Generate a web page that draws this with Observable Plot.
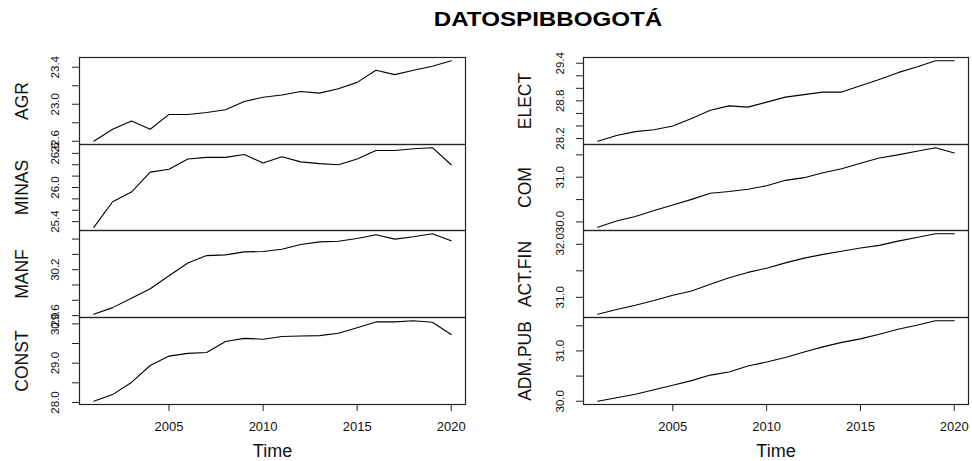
<!DOCTYPE html>
<html><head><meta charset="utf-8">
<script src="https://cdn.jsdelivr.net/npm/d3@7"></script>
<script src="https://cdn.jsdelivr.net/npm/@observablehq/plot@0.6"></script>
<style>
body{margin:0;background:#fff;}
#fig{position:relative;width:972px;height:461px;font-family:"Liberation Sans",Arial,sans-serif;background:#fff;}
#title{position:absolute;left:548px;top:19px;transform:translate(-50%,-50%) scaleX(1.15);font-weight:bold;font-size:21px;white-space:nowrap;color:#000;}
.panel{position:absolute;}
</style></head><body>
<div id="fig"><div id="title">DATOSPIBBOGOTÁ</div></div>
<script>
const years = [2001,2002,2003,2004,2005,2006,2007,2008,2009,2010,2011,2012,2013,2014,2015,2016,2017,2018,2019,2020];

const AGR    = [22.60,22.73,22.82,22.73,22.89,22.89,22.91,22.94,23.03,23.075,23.10,23.137,23.12,23.167,23.236,23.367,23.32,23.367,23.41,23.47];
const MINAS  = [25.30,25.75,25.92,26.27,26.32,26.50,26.53,26.53,26.58,26.43,26.54,26.45,26.42,26.40,26.50,26.65,26.65,26.68,26.70,26.40];
const MANF   = [29.617,29.704,29.828,29.95,30.121,30.288,30.384,30.393,30.433,30.437,30.467,30.529,30.564,30.572,30.608,30.657,30.599,30.63,30.67,30.578];
const CONST  = [28.03,28.20,28.51,28.94,29.18,29.25,29.27,29.55,29.63,29.61,29.68,29.69,29.70,29.76,29.90,30.05,30.05,30.08,30.04,29.73];
const ELECT  = [28.156,28.249,28.31,28.34,28.40,28.52,28.65,28.72,28.70,28.78,28.86,28.90,28.94,28.94,29.04,29.14,29.25,29.34,29.44,29.44];
const COM    = [29.88,30.02,30.12,30.255,30.38,30.505,30.64,30.68,30.73,30.81,30.93,30.99,31.10,31.19,31.31,31.43,31.50,31.58,31.66,31.54];
const ACTFIN = [30.68,30.77,30.85,30.94,31.04,31.12,31.245,31.37,31.47,31.55,31.65,31.74,31.81,31.87,31.93,31.98,32.06,32.13,32.20,32.20];
const ADMPUB = [30.00,30.07,30.14,30.23,30.32,30.41,30.52,30.58,30.70,30.78,30.87,30.98,31.08,31.17,31.24,31.33,31.43,31.51,31.60,31.60];

const seriesNames = ["AGR","MINAS","MANF","CONST","ELECT","COM","ACT.FIN","ADM.PUB"];
const seriesValues = [AGR, MINAS, MANF, CONST, ELECT, COM, ACTFIN, ADMPUB];

const yTicks = [
  [22.6,22.8,23.0,23.2,23.4],
  [25.4,25.6,25.8,26.0,26.2,26.4,26.6],
  [29.6,29.8,30.0,30.2,30.4,30.6],
  [28.0,28.5,29.0,29.5,30.0],
  [28.2,28.4,28.6,28.8,29.0,29.2,29.4],
  [30.0,30.5,31.0,31.5],
  [31.0,31.5,32.0],
  [30.0,30.5,31.0,31.5]
];
const yLabels = [
  [22.6,23.0,23.4],
  [25.4,26.0,26.6],
  [29.6,30.2],
  [28.0,29.0,30.0],
  [28.2,28.8,29.4],
  [30.0,31.0],
  [31.0,32.0],
  [30.0,31.0]
];
const xTicks = [2005,2010,2015,2020];
const xLabel = "Time";

// layout
const panelTops = [57,144,230,317];
const panelHeights = [87,86,87,87];
const columns = [
  {colLeft:0, colWidth:470, boxLeft:79, boxRight:465, tickDx:-24, nameDx:-57},
  {colLeft:486, colWidth:486, boxLeft:583, boxRight:968, tickDx:-23, nameDx:-58}
];

const fig = document.getElementById("fig");
const xDomain = [d3.min(years) - 0.04*(d3.max(years)-d3.min(years)), d3.max(years) + 0.04*(d3.max(years)-d3.min(years))];

seriesNames.forEach((name, k) => {
  const col = columns[Math.floor(k/4)];
  const row = k % 4;
  const values = seriesValues[k];
  const data = years.map((yr,i) => ({year: yr, value: values[i]}));
  const [lo, hi] = d3.extent(values);
  const pad = (hi - lo) * 0.04;
  const isBottom = row === 3;
  const h = panelHeights[row];
  const mb = isBottom ? 57 : 0;
  const marks = [
    Plot.axisY({ticks: yTicks[k], tickSize: 7, tickFormat: () => "", label: null, stroke: "#222"}),
    Plot.text(yLabels[k], {y: d => d, text: d => d.toFixed(1), frameAnchor: "left", dx: col.tickDx, rotate: -90, textAnchor: "middle", lineAnchor: "middle", fontSize: 11.5, fill: "#111"}),
    Plot.text([name], {frameAnchor: "left", dx: col.nameDx, rotate: -90, textAnchor: "middle", lineAnchor: "middle", fontSize: 17.5, fill: "#111"}),
    Plot.line(data, {x: "year", y: "value", stroke: "#000", strokeWidth: 1.1}),
    Plot.frame({stroke: "#222", strokeWidth: 1.2})
  ];
  if (isBottom) {
    marks.push(
      Plot.axisX({ticks: xTicks, tickSize: 7, tickFormat: () => "", label: null, stroke: "#222"}),
      Plot.text(xTicks, {x: d => d, text: d => String(d), frameAnchor: "bottom", dy: 22, textAnchor: "middle", lineAnchor: "middle", fontSize: 13, fill: "#111"}),
      Plot.text([xLabel], {frameAnchor: "bottom", dy: 46.5, textAnchor: "middle", lineAnchor: "middle", fontSize: 18, fill: "#111"})
    );
  }
  const p = Plot.plot({
    width: col.colWidth,
    height: h + mb,
    marginTop: 0,
    marginBottom: mb,
    marginLeft: col.boxLeft - col.colLeft,
    marginRight: col.colLeft + col.colWidth - col.boxRight,
    style: {overflow: "visible", background: "transparent", fontFamily: "'Liberation Sans', Arial, sans-serif"},
    x: {domain: xDomain, axis: isBottom ? undefined : null},
    y: {domain: [lo - pad, hi + pad]},
    marks
  });
  p.classList.add("panel");
  p.style.left = col.colLeft + "px";
  p.style.top = panelTops[row] + "px";
  fig.appendChild(p);
});
</script>
</body></html>
